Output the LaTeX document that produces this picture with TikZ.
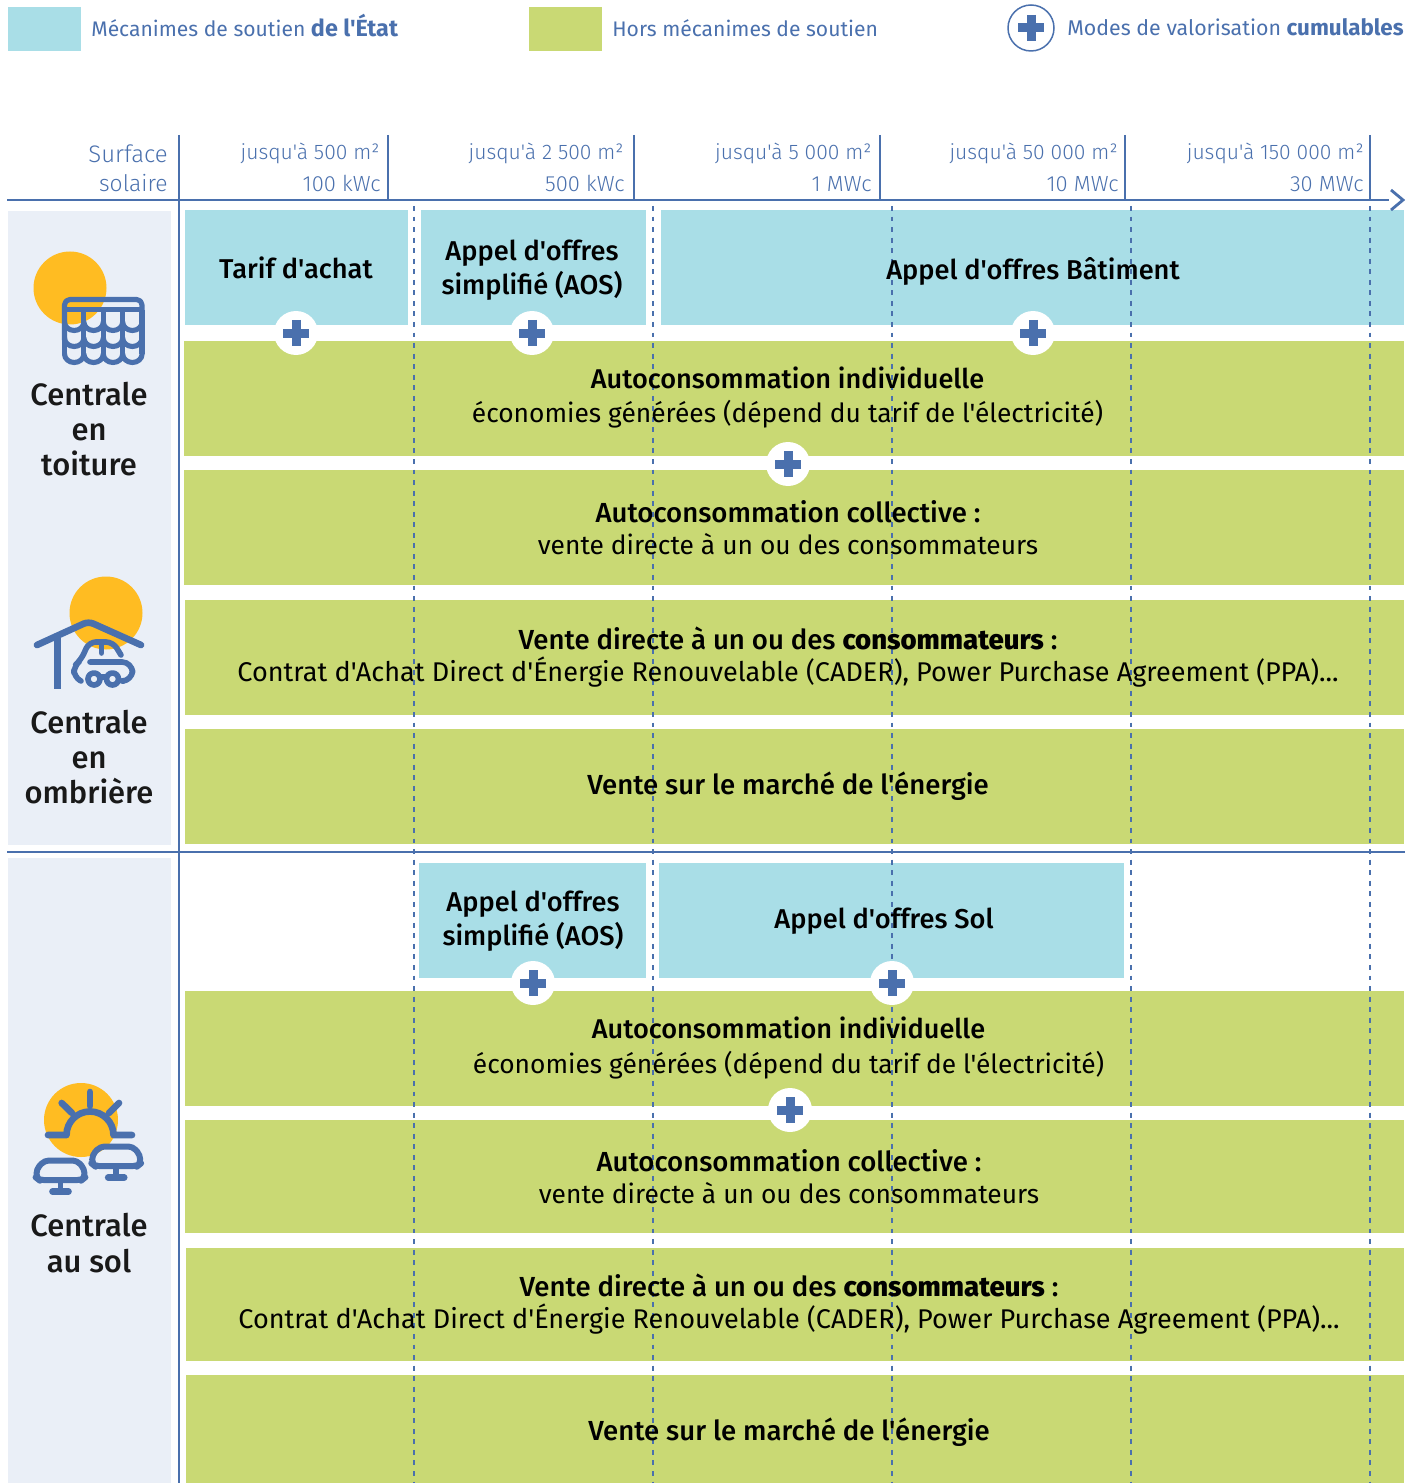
\documentclass[tikz,border=0pt]{standalone}
\usepackage{fontspec}
\newfontfamily\basefont{Fira Sans}
\newfontfamily\thinfont{Fira Sans Light}
\newfontfamily\midfont{Fira Sans Medium}
\usetikzlibrary{calc}
\definecolor{stateblue}{HTML}{A9DEE7}
\definecolor{marketgreen}{HTML}{C9D974}
\definecolor{panelgrey}{HTML}{EAEFF7}
\definecolor{axisblue}{HTML}{4A70AD}
\definecolor{sunyellow}{HTML}{FFBC22}
\def\Px{0.02cm}
\def\subline{\basefont\fontsize{15}{18.2}\selectfont}
\def\legendbold#1#2{{\bfseries\fontsize{#1}{15}\selectfont #2}}
\tikzset{
	cell/.style={anchor=north west, inner sep=0pt},
	bluecell/.style={cell, fill=stateblue},
	greencell/.style={cell, fill=marketgreen},
	panel/.style={anchor=north west, inner sep=0pt, fill=panelgrey},
	celltext/.style={inner sep=0pt, align=center, text=black, font=\midfont\fontsize{15.7}{18.2}\selectfont},
	indivtext/.style={celltext, font=\midfont\fontsize{15.45}{18.2}\selectfont},
	bluetext/.style={inner sep=0pt, align=center, text=black, font=\midfont\fontsize{15.5}{19.6}\selectfont},
	plantname/.style={inner sep=0pt, align=center, text=black!90, font=\midfont\fontsize{17.6}{20}\selectfont},
	legendtext/.style={anchor=base west, inner sep=0pt, text=axisblue, font=\basefont\fontsize{12}{15}\selectfont},
	scaletext/.style={anchor=base east, inner sep=0pt, text=axisblue, font=\thinfont\fontsize{12}{15}\selectfont},
	powertext/.style={scaletext, font=\thinfont\fontsize{12.5}{15}\selectfont},
	axisline/.style={draw=axisblue, line width=1.6pt},
	tickline/.style={draw=axisblue, line width=0.85pt},
	limitline/.style={draw=axisblue, line width=0.6pt, dash pattern=on 2.8pt off 3.2pt},
	iconline/.style={draw=axisblue, line width=3.8pt, line cap=round, line join=round},
	roofline/.style={iconline, line width=2.9pt},
	plusmark/.style={circle, fill=white, inner sep=0pt, minimum size=44*\Px, path picture={
		\draw[axisblue, line width=9*\Px] ($(path picture bounding box.center)+(-13,0)$) -- ++(26,0);
		\draw[axisblue, line width=9*\Px] ($(path picture bounding box.center)+(0,-13)$) -- ++(0,26);
	}},
}
\begin{document}
\begin{tikzpicture}[x=0.02cm,y=-0.02cm]
	\useasboundingbox (0,0) rectangle (1422,1483);
	%Legend
	%===========================================================
	\node[panel, fill=stateblue, minimum width=73*\Px, minimum height=44*\Px] (keyblue) at (8,7) {};
	\node[panel, fill=marketgreen, minimum width=73*\Px, minimum height=44*\Px] (keygreen) at (529,7) {};
	\node[legendtext] (keybluetxt) at (91,37) {Mécanimes de soutien \legendbold{13.3}{de l'État}};
	\node[legendtext] (keygreentxt) at (612,37) {Hors mécanimes de soutien};
	\node[plusmark, draw=axisblue, line width=0.85pt, minimum size=46*\Px] (keyplus) at (1031,28) {};
	\node[legendtext, font=\basefont\fontsize{12.15}{15}\selectfont] (keyplustxt) at (1067,36) {Modes de valorisation \legendbold{12.75}{cumulables}};
	%Left panels
	%===========================================================
	\node[panel, minimum width=163*\Px, minimum height=634*\Px] (panelroof) at (8,211) {};
	\node[panel, minimum width=163*\Px, minimum height=625*\Px] (panelground) at (8,858) {};
	%Upper block
	%===========================================================
	\node[bluecell, minimum width=223*\Px, minimum height=115*\Px] (tarif) at (185,210) {};
	\node[bluecell, minimum width=225*\Px, minimum height=115*\Px] (aosroof) at (421,210) {};
	\node[bluecell, minimum width=743*\Px, minimum height=115*\Px] (batiment) at (661,210) {};
	\node[greencell, minimum width=1220*\Px, minimum height=115*\Px] (indivroof) at (184,341) {};
	\node[greencell, minimum width=1220*\Px, minimum height=115*\Px] (collroof) at (184,470) {};
	\node[greencell, minimum width=1219*\Px, minimum height=115*\Px] (directroof) at (185,600) {};
	\node[greencell, minimum width=1219*\Px, minimum height=115*\Px] (marketroof) at (185,729) {};
	%Lower block
	%===========================================================
	\node[bluecell, minimum width=227*\Px, minimum height=115*\Px] (aosground) at (419,863) {};
	\node[bluecell, minimum width=465*\Px, minimum height=115*\Px] (sol) at (659,863) {};
	\node[greencell, minimum width=1219*\Px, minimum height=115*\Px] (indivground) at (185,991) {};
	\node[greencell, minimum width=1219*\Px, minimum height=113*\Px] (collground) at (185,1120) {};
	\node[greencell, minimum width=1218*\Px, minimum height=113*\Px] (directground) at (186,1248) {};
	\node[greencell, minimum width=1218*\Px, minimum height=108*\Px] (marketground) at (186,1375) {};
	%Scale
	%===========================================================
	\draw[axisline] (7,200) -- (1389,200);
	\draw[axisline] (1391,190) -- (1403,200) -- (1391,210);
	\draw[axisline] (7,852) -- (1405,852);
	\draw[tickline] (179,135) -- (179,1483);
	\foreach \x in {388,634,880,1125,1370}
		\draw[tickline] (\x,135) -- (\x,200);
	\foreach \x in {414,653,892,1131,1370}
		\draw[limitline] (\x,206) -- (\x,1483);
	\node[scaletext, font=\thinfont\fontsize{13.6}{17}\selectfont] (surface) at (168,163) {Surface};
	\node[scaletext, font=\thinfont\fontsize{13}{17}\selectfont] (solaire) at (168,192) {solaire};
	\node[scaletext] (areaa) at (380,160) {jusqu'à 500 m²};
	\node[powertext] (powera) at (381,192) {100 kWc};
	\node[scaletext] (areab) at (624,160) {jusqu'à 2 500 m²};
	\node[powertext] (powerb) at (625,192) {500 kWc};
	\node[scaletext] (areac) at (872,160) {jusqu'à 5 000 m²};
	\node[powertext] (powerc) at (872,192) {1 MWc};
	\node[scaletext] (aread) at (1118,160) {jusqu'à 50 000 m²};
	\node[powertext] (powerd) at (1119,192) {10 MWc};
	\node[scaletext] (areae) at (1364,160) {jusqu'à 150 000 m²};
	\node[powertext] (powere) at (1364,192) {30 MWc};
	%Cell texts
	%===========================================================
	\node[bluetext] (tarifmsg) at (296,268) {Tarif d'achat};
	\node[bluetext] (aosroofmsg) at (532,270) {Appel d'offres\\simplifié (AOS)};
	\node[bluetext] (batimentmsg) at (1033,271.5) {Appel d'offres Bâtiment};
	\node[indivtext] (indivroofmsg) at (787.5,397.5) {Autoconsommation individuelle\\[1.6pt]{\subline économies générées (dépend du tarif de l'électricité)}};
	\node[celltext] (collroofmsg) at (788,528) {Autoconsommation collective :\\{\subline vente directe à un ou des consommateurs}};
	\node[celltext] (directroofmsg) at (788,657) {Vente directe à un ou des \textbf{consommateurs} :\\{\basefont\fontsize{15.4}{18.2}\selectfont Contrat d'Achat Direct d'Énergie Renouvelable (CADER), Power Purchase Agreement (PPA)...}};
	\node[celltext] (marketroofmsg) at (788,786) {Vente sur le marché de l'énergie};
	\node[bluetext] (aosgroundmsg) at (533,921) {Appel d'offres\\simplifié (AOS)};
	\node[bluetext] (solmsg) at (884,921) {Appel d'offres Sol};
	\node[indivtext] (indivgroundmsg) at (788.5,1048) {Autoconsommation individuelle\\[1.6pt]{\subline économies générées (dépend du tarif de l'électricité)}};
	\node[celltext] (collgroundmsg) at (789,1177) {Autoconsommation collective :\\{\subline vente directe à un ou des consommateurs}};
	\node[celltext] (directgroundmsg) at (789,1304) {Vente directe à un ou des \textbf{consommateurs} :\\{\basefont\fontsize{15.4}{18.2}\selectfont Contrat d'Achat Direct d'Énergie Renouvelable (CADER), Power Purchase Agreement (PPA)...}};
	\node[celltext] (marketgroundmsg) at (789,1432) {Vente sur le marché de l'énergie};
	%Cumulable marks
	%===========================================================
	\node[plusmark] (plusa) at (296,333) {};
	\node[plusmark] (plusb) at (532,333) {};
	\node[plusmark] (plusc) at (1033,333) {};
	\node[plusmark] (plusd) at (788,464) {};
	\node[plusmark] (pluse) at (533,983) {};
	\node[plusmark] (plusf) at (892,983) {};
	\node[plusmark] (plusg) at (790,1110) {};
	%Roof icon
	%===========================================================
	\fill[sunyellow] (70,288) circle (36.5);
	\draw[roofline, rounded corners=3] (64.5,340) -- (64.5,299.5) -- (142,299.5) -- (142,340);
	\draw[roofline, line cap=butt] (64.5,309.5) -- (142,309.5);
	\foreach \y in {322,338,354}
		\draw[roofline] (64.5,\y) arc (180:0:9.7 and 8.5) arc (180:0:9.7 and 8.5) arc (180:0:9.7 and 8.5) arc (180:0:9.7 and 8.5);
	\foreach \x in {64.5,83.9,103.3,122.6,142}
		\draw[roofline, line cap=butt] (\x,310) -- (\x,354);
	\node[plantname] (nameroof) at (89,429) {Centrale\\en\\toiture};
	%Carport icon
	%===========================================================
	\fill[sunyellow] (106,613) circle (36.5);
	\draw[iconline, rounded corners=3] (37,645) -- (88.5,621.5) -- (141,645);
	\draw[iconline, line cap=butt] (57.5,634) -- (57.5,689);
	\draw[iconline, line width=3.2pt, rounded corners=4] (81,681) -- (74,677) -- (74,666) -- (81,660) -- (89,642) -- (113,642) -- (121,655);
	\draw[iconline, line width=3.2pt] (101.5,642) -- (101.5,653);
	\draw[iconline, line width=3.2pt, rounded corners=6] (90,662) -- (132.5,662) -- (132.5,681) -- (124,681);
	\draw[iconline, line width=3.2pt] (94,679) circle (6) (112.5,679) circle (6);
	\draw[iconline, line width=3.2pt, line cap=butt] (100,677) -- (106.5,677);
	\node[plantname] (namecarport) at (89,757) {Centrale\\en\\ombrière};
	%Ground icon
	%===========================================================
	\fill[sunyellow] (81,1120) circle (37);
	\draw[iconline] (48,1135) -- (66.5,1135) arc (180:360:23.5) -- (132,1135);
	\draw[iconline] (90,1092) -- (90,1106);
	\draw[iconline] (61.7,1103) -- (72,1113);
	\draw[iconline] (119,1103) -- (109,1113);
	\foreach \dx/\dy in {0/0,55.7/-14} {
		\begin{scope}[shift={(\dx,\dy)}]
			\draw[iconline, line width=3.4pt, rounded corners=2.5] (44.5,1160.5) -- (77,1160.5) -- (84.5,1169) -- (84.5,1178) -- (82,1180) -- (39,1180) -- (36.5,1178) -- (36.5,1169) -- cycle;
			\draw[iconline, line width=3.2pt, line cap=butt] (60.5,1180) -- (60.5,1190);
			\draw[iconline] (52.5,1191.5) -- (68.5,1191.5);
		\end{scope}
	}
	\node[plantname] (nameground) at (89,1243) {Centrale\\[0.5pt]au sol};
\end{tikzpicture}
\end{document}
